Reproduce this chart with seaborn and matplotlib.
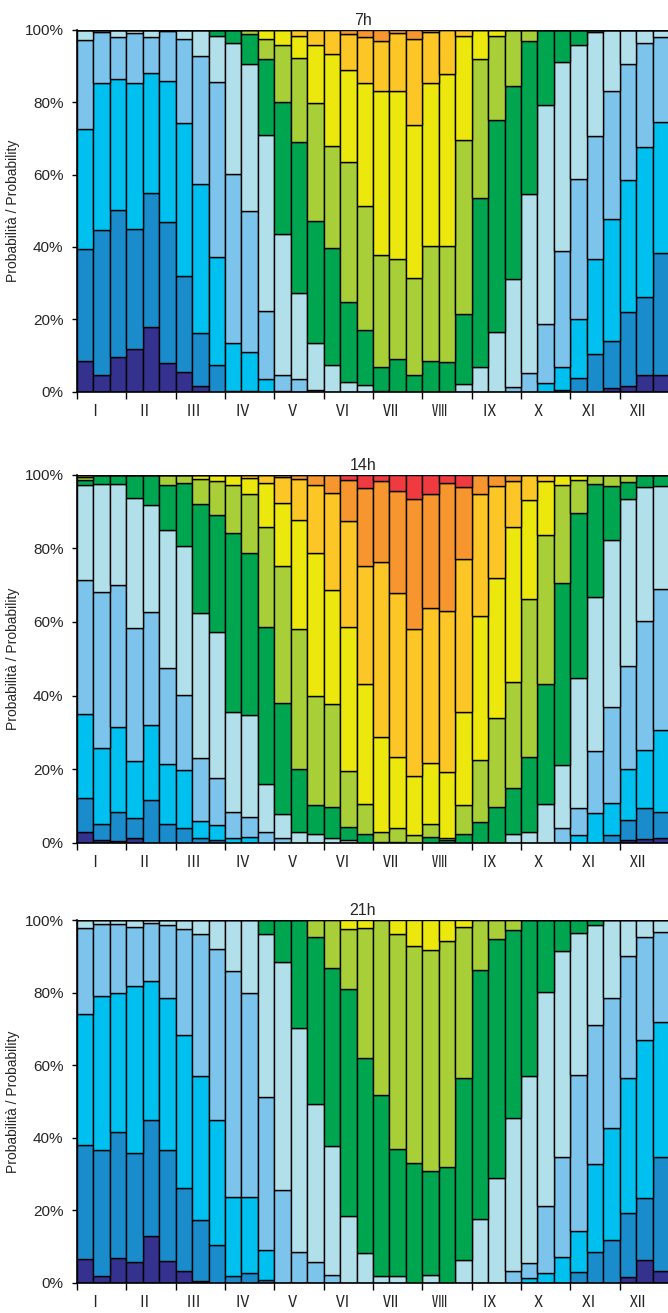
import pandas as pd
import seaborn as sns
import matplotlib.pyplot as plt
from matplotlib.ticker import PercentFormatter

# temperature classes, coldest at the bottom of each stack
CLASS_COLORS = ['#35318f', '#1a8ccc', '#00c0f0', '#7dc4ec', '#b2e0ea', '#00a54f',
                '#a9cf38', '#ece70c', '#fdc627', '#f7962f', '#ef3b40']
MONTHS = ['Ⅰ', 'Ⅱ', 'Ⅲ', 'Ⅳ', 'Ⅴ', 'Ⅵ', 'Ⅶ', 'Ⅷ', 'Ⅸ', 'Ⅹ', 'Ⅺ', 'Ⅻ']

# one entry per decade (3 per month): (lowest class present, cumulative % at the top
# of each class); the last class present always reaches 100 %
H07 = [
    (0, [8.6, 39.4, 72.5, 97.2]), (0, [4.6, 44.8, 85.2, 99.5]), (0, [9.7, 50.2, 86.5, 97.9]),
    (0, [11.9, 44.9, 85.2, 99.0]), (0, [18.0, 54.8, 88.1, 98.1]), (0, [8.0, 47.0, 85.7, 99.7]),
    (0, [5.5, 32.0, 74.1, 97.4]), (0, [1.6, 16.1, 57.4, 92.7]), (1, [7.4, 37.3, 85.6, 98.2]),
    (1, [0.3, 13.4, 60.1, 96.2]), (1, [0.3, 10.9, 49.9, 90.4, 98.8]), (2, [3.5, 22.3, 70.9, 91.8, 97.4]),
    (2, [0.3, 4.6, 43.5, 79.9, 95.8]), (3, [3.5, 27.4, 69.1, 92.1, 98.3]), (3, [0.4, 13.5, 47.1, 79.8, 95.8]),
    (4, [7.4, 39.8, 68.0, 93.3]), (4, [2.8, 24.9, 63.5, 88.9, 98.7]), (4, [1.8, 17.0, 51.4, 85.2, 98.1]),
    (4, [0.3, 6.9, 37.8, 83.0, 97.0]), (5, [9.0, 36.6, 83.1, 99.0]), (5, [4.6, 31.3, 73.8, 97.3]),
    (5, [8.6, 40.2, 85.2, 99.4]), (5, [8.3, 40.2, 87.9]), (4, [2.0, 21.6, 69.5, 98.3]),
    (4, [6.9, 53.4, 91.9]), (4, [16.6, 75.0, 98.3]), (3, [1.4, 31.2, 84.5]),
    (3, [5.2, 54.6, 97.0]), (2, [2.3, 18.7, 79.2]), (1, [0.5, 6.9, 38.9, 91.0]),
    (1, [3.7, 20.1, 58.7, 95.9]), (1, [10.4, 36.6, 70.6, 99.4]), (0, [0.9, 14.1, 47.7, 83.1]),
    (0, [1.6, 21.9, 58.5, 90.5]), (0, [4.7, 26.2, 67.7, 96.4]), (0, [4.7, 38.2, 74.4, 98.1]),
]

H14 = [
    (0, [2.8, 12.2, 35.1, 71.4, 97.2, 98.6, 99.5]), (0, [0.6, 5.1, 25.6, 68.2, 97.4]),
    (0, [0.5, 8.4, 31.5, 70.0, 97.6]), (0, [1.4, 6.6, 22.2, 58.4, 93.8]),
    (1, [11.6, 32.0, 62.8, 91.8]), (1, [5.1, 21.3, 47.6, 85.0, 97.2]),
    (1, [4.1, 19.7, 40.1, 80.6, 97.8]), (1, [1.4, 5.9, 23.1, 62.3, 92.0, 98.7]),
    (1, [0.7, 4.8, 17.5, 57.3, 89.0, 98.4]), (2, [1.4, 8.4, 35.6, 84.1, 97.2]),
    (2, [1.6, 7.1, 34.7, 78.6, 94.7, 99.2]), (3, [3.0, 15.9, 58.5, 85.9, 97.8]),
    (3, [1.2, 7.8, 38.0, 75.3, 92.2, 99.5]), (4, [3.0, 20.0, 58.2, 87.7, 98.8]),
    (4, [2.5, 10.2, 39.9, 78.8, 97.2]), (4, [1.2, 9.6, 37.7, 68.7, 95.1]),
    (4, [0.7, 4.3, 19.5, 58.7, 87.4, 98.6]), (5, [2.5, 10.5, 43.1, 75.3, 96.5]),
    (5, [0.3, 2.8, 28.8, 76.4, 98.3]), (5, [0.3, 4.1, 23.2, 67.9, 95.7]),
    (6, [2.1, 18.2, 58.1, 93.4]), (5, [1.6, 5.1, 21.7, 63.9, 94.7]),
    (5, [0.7, 1.4, 19.3, 63.0, 97.8]), (5, [2.4, 10.2, 35.6, 77.1, 96.7]),
    (5, [5.7, 22.5, 61.7, 94.7]), (5, [9.6, 33.8, 71.8, 97.0]),
    (4, [2.5, 14.8, 43.8, 85.7, 98.4]), (4, [3.0, 23.2, 66.1, 93.1]),
    (4, [10.5, 43.1, 83.6, 98.4]), (3, [3.9, 21.1, 70.7, 97.2]),
    (2, [2.1, 9.3, 44.7, 89.5, 98.6]), (2, [8.2, 25.0, 66.8, 97.6]),
    (1, [2.1, 10.7, 36.8, 82.2, 96.9]), (0, [0.7, 6.2, 20.0, 48.1, 93.3, 97.9]),
    (0, [1.0, 9.3, 25.2, 60.2, 96.7]), (0, [1.4, 8.4, 30.6, 68.9, 96.9]),
]

H21 = [
    (0, [6.5, 38.0, 74.0, 97.9]), (0, [1.9, 36.6, 79.1, 98.8]), (0, [6.9, 41.6, 80.0, 98.8]),
    (0, [5.6, 35.7, 81.8, 98.2]), (0, [12.9, 44.9, 83.2, 99.1]), (0, [6.0, 36.6, 78.4, 98.6]),
    (0, [3.3, 26.0, 68.3, 97.4]), (0, [0.5, 17.3, 57.1, 96.1]), (1, [10.4, 44.9, 92.0]),
    (1, [1.9, 23.7, 85.9]), (1, [2.6, 23.7, 79.8]), (1, [0.7, 9.0, 51.1, 96.1]),
    (3, [25.6, 88.3]), (3, [8.5, 70.3]), (3, [5.8, 49.3, 95.4]),
    (3, [2.1, 37.8, 86.9]), (4, [18.4, 81.0, 97.5]), (4, [8.1, 62.0, 97.9]),
    (4, [1.9, 51.7]), (4, [1.9, 36.8, 96.1]), (5, [32.9, 92.8]),
    (4, [2.1, 30.9, 91.7]), (5, [32.0, 94.3]), (4, [6.3, 56.3, 98.2]),
    (4, [17.7, 86.2]), (4, [29.0, 94.7]), (3, [3.3, 45.3, 97.2]),
    (2, [1.2, 5.5, 57.1]), (2, [2.8, 21.2, 80.1]), (2, [7.2, 34.7, 91.5]),
    (1, [3.0, 14.2, 57.3, 96.3]), (1, [8.4, 32.7, 71.0, 98.6]), (1, [11.9, 42.7, 78.4]),
    (0, [1.7, 19.1, 56.5, 90.2]), (0, [6.3, 23.3, 66.9, 95.4]), (0, [3.2, 34.6, 71.8, 96.8]),
]

PANELS = [('7h', H07), ('14h', H14), ('21h', H21)]


def to_long(bars):
    rows = []
    for i, (first, tops) in enumerate(bars):
        edges = [0.0] + tops + [100.0]
        for k in range(len(edges) - 1):
            rows.append({'decade': i, 'cls': first + k, 'pct': edges[k + 1] - edges[k]})
    return pd.DataFrame(rows)


def draw_panel(ax, title, bars):
    df = to_long(bars)
    palette = {k: c for k, c in enumerate(CLASS_COLORS)}
    # seaborn stacks the first hue level on top, so hand it the warmest class first
    sns.histplot(data=df, x='decade', weights='pct', hue='cls',
                 hue_order=list(range(len(CLASS_COLORS)))[::-1], palette=palette,
                 multiple='stack', discrete=True, shrink=1, alpha=1,
                 edgecolor='black', linewidth=1.0, legend=False, ax=ax)
    ax.set_xlim(-0.5, 35.5)
    ax.set_ylim(0, 100)
    ax.set_yticks(range(0, 101, 20))
    ax.yaxis.set_major_formatter(PercentFormatter(100, decimals=0))
    ax.set_xticks([m * 3 - 0.5 for m in range(12)])
    ax.set_xticklabels([])
    ax.set_xticks([m * 3 + 0.57 for m in range(12)], minor=True)
    ax.set_xticklabels(MONTHS, minor=True)
    ax.tick_params(axis='x', which='major', length=4.8, width=1, color='black')
    ax.tick_params(axis='x', which='minor', length=0, pad=9.5, labelsize=11)
    ax.tick_params(axis='y', length=3.8, width=1, pad=6, labelsize=11, color='black')
    ax.set_xlabel('')
    ax.set_ylabel('Probabilità / Probability', fontsize=10, labelpad=3)
    ax.set_title(title, fontsize=11.5, pad=3.3, x=0.483)
    sns.despine(ax=ax, top=True, right=True)
    for s in ('left', 'bottom'):
        ax.spines[s].set_color('black')
        ax.spines[s].set_linewidth(1.2)


def main():
    sns.set_style('ticks')
    plt.rcParams['font.family'] = ['Liberation Sans', 'Noto Sans CJK JP', 'DejaVu Sans']
    fig = plt.figure(figsize=(6.68, 13.13), dpi=100)
    W, H = 668, 1313
    # axes boxes in pixels: (left, top, right, bottom)
    boxes = [(77, 29.7, 669, 391.7), (77, 474.7, 669, 842.7), (77, 920, 669, 1282.7)]
    for (title, bars), (l, t, r, b) in zip(PANELS, boxes):
        ax = fig.add_axes([l / W, 1 - b / H, (r - l) / W, (b - t) / H])
        draw_panel(ax, title, bars)
    fig.savefig('out.png', dpi=100)
    plt.close(fig)


if __name__ == '__main__':
    main()
